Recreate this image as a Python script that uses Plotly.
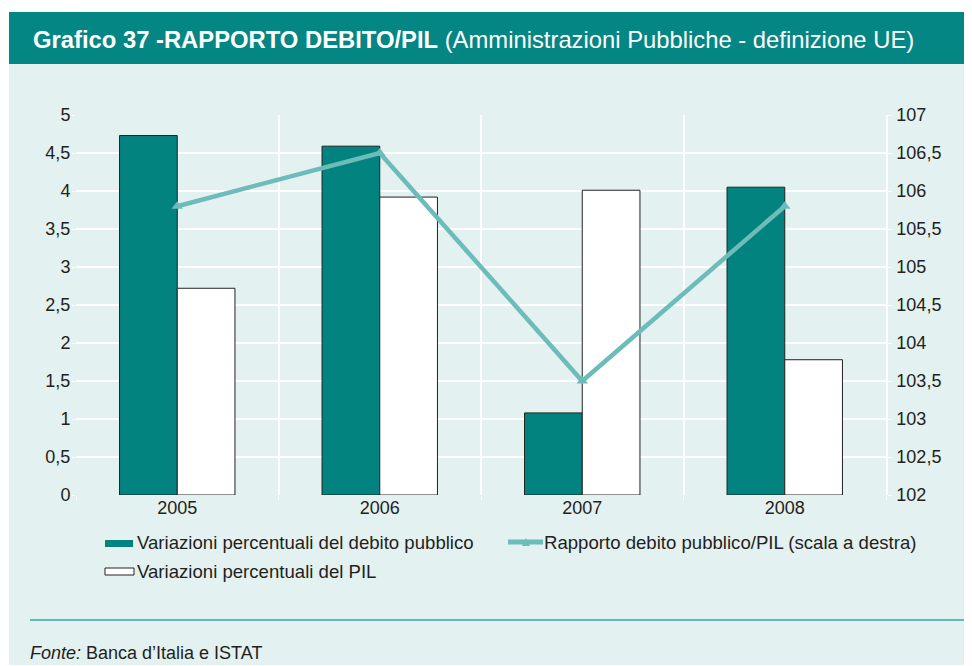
import plotly.graph_objects as go

years = ["2005", "2006", "2007", "2008"]
debito_var = [4.73, 4.59, 1.08, 4.05]
pil_var = [2.72, 3.92, 4.01, 1.78]
rapporto = [105.8, 106.5, 103.5, 105.8]

name_debito = "Variazioni percentuali del debito pubblico"
name_pil = "Variazioni percentuali del PIL"
name_rapp = "Rapporto debito pubblico/PIL (scala a destra)"

OFF = 8  # browser body margin
W, H = 972, 666
L, R, T, B = 76, 886, 115, 495
TEAL = "#03837f"
BAND = "#048685"
LINE = "#6cbcb9"
MINT = "#e3f1f0"
TXT = "#231f20"
FONT = "Liberation Sans, Arial, Helvetica, sans-serif"
FS = 18
LFS = 18.6


def px(x):
    return (x - L) / (R - L)


def py(y):
    return (B - y) / (B - T)


fig = go.Figure()
fig.add_trace(go.Bar(x=years, y=debito_var, name=name_debito,
                     marker=dict(color=TEAL, line=dict(color="#222222", width=1)),
                     showlegend=False))
fig.add_trace(go.Scatter(x=years, y=rapporto, name=name_rapp, yaxis="y2",
                         mode="lines+markers",
                         line=dict(color=LINE, width=4.5),
                         marker=dict(symbol="triangle-up", size=10, color=LINE),
                         showlegend=False))
fig.add_trace(go.Bar(x=years, y=pil_var, name=name_pil,
                     marker=dict(color="white", line=dict(color="#222222", width=1)),
                     showlegend=False))

shapes = [
    dict(type="rect", xref="paper", yref="paper", x0=px(9), x1=px(W + 2), y0=py(665), y1=py(64),
         fillcolor=MINT, line=dict(width=0), layer="below"),
    dict(type="rect", xref="paper", yref="paper", x0=px(9), x1=px(W + 2), y0=py(64), y1=py(12),
         fillcolor=BAND, line=dict(width=0), layer="below"),
    dict(type="line", xref="paper", yref="paper", x0=px(30), x1=px(W + 2), y0=py(620), y1=py(620),
         line=dict(color="#3aa6a3", width=1.5)),
    dict(type="rect", xref="paper", yref="paper", x0=px(105), x1=px(133), y0=py(547), y1=py(540),
         fillcolor=TEAL, line=dict(width=0)),
    dict(type="rect", xref="paper", yref="paper", x0=px(105), x1=px(134), y0=py(575), y1=py(568),
         fillcolor="white", line=dict(color="#222222", width=1)),
    dict(type="line", xref="paper", yref="paper", x0=px(508), x1=px(543), y0=py(542), y1=py(542),
         line=dict(color=LINE, width=5)),
    dict(type="path", xref="paper", yref="paper",
         path=f"M {px(522)} {py(546)} L {px(530)} {py(546)} L {px(526)} {py(538)} Z",
         fillcolor=LINE, line=dict(width=0)),
]

annotations = [
    dict(xref="paper", yref="paper", x=px(31), y=py(39), xanchor="left", yanchor="middle",
         text="<b>Grafico 37 -RAPPORTO DEBITO/PIL</b> (Amministrazioni Pubbliche - definizione UE)",
         showarrow=False, font=dict(family=FONT, size=23.8, color="white")),
    dict(xref="paper", yref="paper", x=px(135), y=py(542), xanchor="left", yanchor="middle",
         text=name_debito, showarrow=False, font=dict(family=FONT, size=LFS, color=TXT)),
    dict(xref="paper", yref="paper", x=px(135), y=py(571), xanchor="left", yanchor="middle",
         text=name_pil, showarrow=False, font=dict(family=FONT, size=LFS, color=TXT)),
    dict(xref="paper", yref="paper", x=px(542), y=py(542), xanchor="left", yanchor="middle",
         text=name_rapp, showarrow=False, font=dict(family=FONT, size=LFS, color=TXT)),
    dict(xref="paper", yref="paper", x=px(28), y=py(653), xanchor="left", yanchor="middle",
         text="<i>Fonte:</i> Banca d’Italia e ISTAT", showarrow=False,
         font=dict(family=FONT, size=FS, color=TXT)),
]

FW, FH = W - OFF, H - OFF
fig.update_layout(
    width=FW, height=FH,
    margin=dict(l=L - OFF, r=FW - (R - OFF), t=T - OFF, b=FH - (B - OFF), pad=0),
    paper_bgcolor="white", plot_bgcolor=MINT,
    separators=",.",
    barmode="group", bargap=0.43, bargroupgap=0,
    font=dict(family=FONT, size=FS, color=TXT),
    showlegend=False,
    shapes=shapes, annotations=annotations,
    xaxis=dict(type="category", tickson="boundaries", showgrid=True, gridcolor="white", gridwidth=1.5,
               ticks="outside", ticklen=4, tickcolor="white", showline=False, zeroline=False,
               tickfont=dict(family=FONT, size=FS, color=TXT)),
    yaxis=dict(range=[0, 5], dtick=0.5, showgrid=True, gridcolor="white", gridwidth=1.5,
               ticks="outside", ticklen=3, tickcolor="white", zeroline=False, showline=False,
               ticklabelstandoff=-2,
               tickfont=dict(family=FONT, size=FS, color=TXT)),
    yaxis2=dict(range=[102, 107], dtick=0.5, overlaying="y", side="right", showgrid=False,
                ticks="outside", ticklen=4, tickcolor="white", showline=True, linecolor="white",
                linewidth=1.5, zeroline=False, ticklabelstandoff=1,
                tickfont=dict(family=FONT, size=FS, color=TXT)),
)

fig.write_html("out.html")
